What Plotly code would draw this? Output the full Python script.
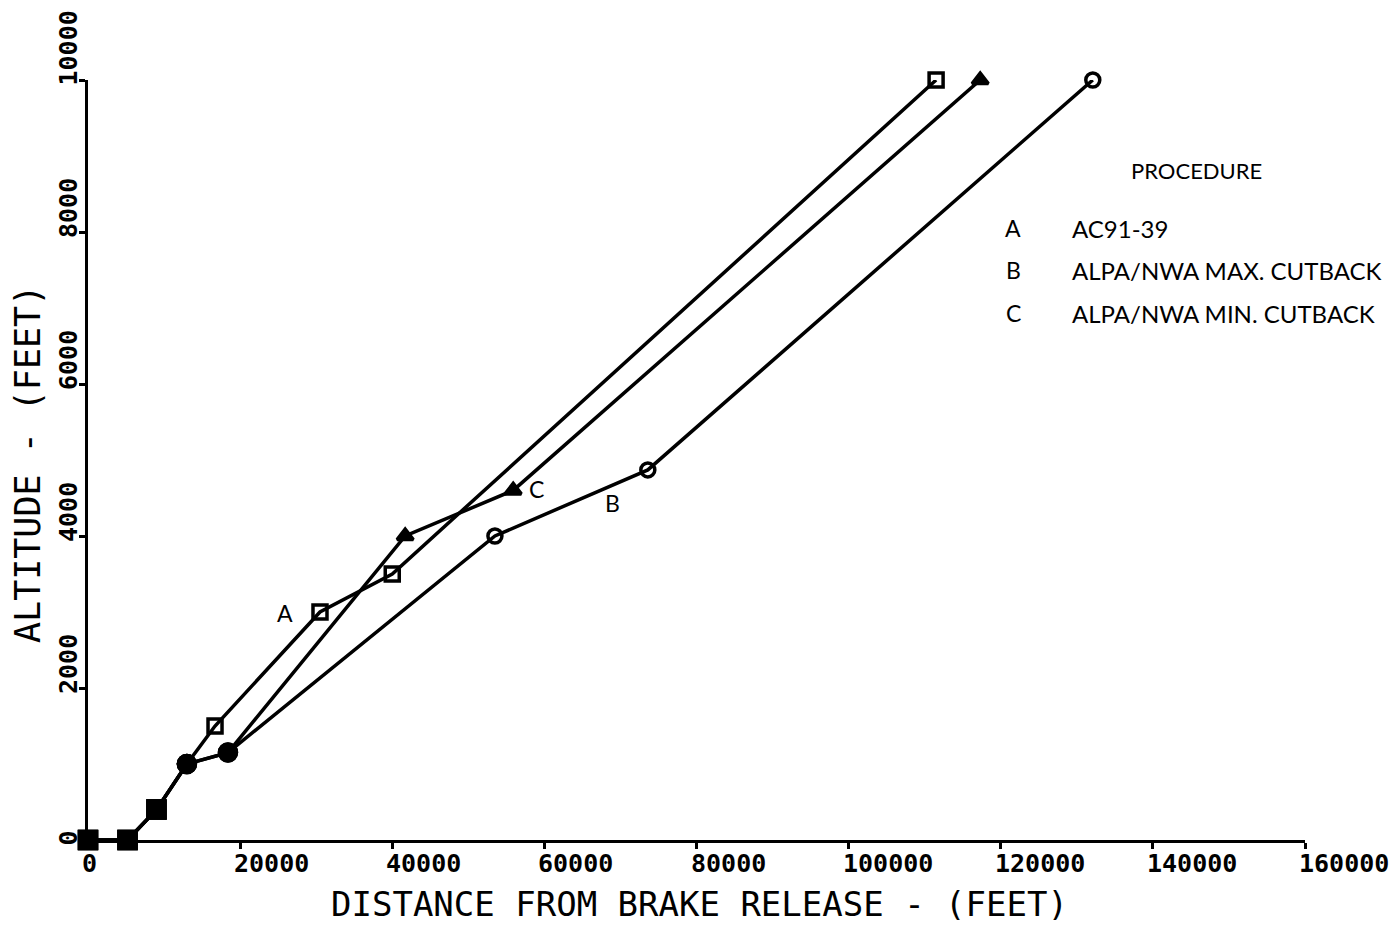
import plotly.graph_objects as go

# ---------------- data ----------------
proc_a_dist = [0, 5200, 9000, 13000, 16700, 30500, 40000, 111500]
proc_a_alt = [0, 0, 400, 1000, 1500, 3000, 3500, 10000]

proc_b_dist = [0, 5200, 9000, 13000, 18400, 53500, 73600, 132100]
proc_b_alt = [0, 0, 400, 1000, 1150, 4000, 4870, 10000]

proc_c_dist = [0, 5200, 9000, 13000, 18400, 41700, 55900, 117300]
proc_c_alt = [0, 0, 400, 1000, 1150, 4000, 4600, 10000]

x_ticks = [0, 20000, 40000, 60000, 80000, 100000, 120000, 140000, 160000]
x_tick_labels = ["0", "20000", "40000", "60000", "80000", "100000", "120000", "140000", "160000"]
y_ticks = [0, 2000, 4000, 6000, 8000, 10000]
y_tick_labels = ["0", "2000", "4000", "6000", "8000", "10000"]

legend_keys = ["A", "B", "C"]
legend_names = ["AC91-39", "ALPA/NWA MAX. CUTBACK", "ALPA/NWA MIN. CUTBACK"]
curve_labels = [("A", 25900, 2990), ("B", 69000, 4430), ("C", 59000, 4620)]

# ---------------- layout geometry ----------------
W, H = 1395, 925
L, R, T, B = 88, 90, 80, 85
PW, PH = W - L - R, H - T - B


def px(xp):
    return (xp - L) / PW


def py(yp):
    return (H - B - yp) / PH


MONO = "DejaVu Sans Mono"
SANS = "Lato"

fig = go.Figure()

shared_syms = ["square", "square", "square", "circle", "circle"]

series = [
    (proc_a_dist, proc_a_alt, 4, "square-open", 14),
    (proc_b_dist, proc_b_alt, 5, "circle-open", 14),
    (proc_c_dist, proc_c_alt, 5, "triangle-up", 14),
]

for xs, ys, n_shared, own_sym, own_size in series:
    n = len(xs)
    syms = shared_syms[:n_shared] + [own_sym] * (n - n_shared)
    sizes = [17] * n_shared + [own_size] * (n - n_shared)
    fig.add_trace(go.Scatter(
        x=xs, y=ys, mode="lines+markers",
        line=dict(color="black", width=3.5),
        marker=dict(symbol=syms, size=sizes, color="black", opacity=1,
                    line=dict(color="black", width=3.5)),
        cliponaxis=False, showlegend=False, hoverinfo="skip",
    ))

ann = []
for v, t in zip(x_ticks, x_tick_labels):
    ann.append(dict(x=v, xref="x", y=0, yref="paper", text="<b>%s</b>" % t, showarrow=False,
                    xanchor="left", xshift=-8, yanchor="middle", yshift=-23,
                    font=dict(family=MONO, size=25, color="black")))
for v, t in zip(y_ticks, y_tick_labels):
    ann.append(dict(y=v, yref="y", x=0, xref="paper", text="<b>%s</b>" % t, showarrow=False,
                    textangle=-90, xanchor="center", xshift=-20,
                    yanchor="bottom", yshift=-8,
                    font=dict(family=MONO, size=25, color="black")))

ann.append(dict(x=px(699), y=0, xref="paper", yref="paper", yshift=-64,
                text="DISTANCE FROM BRAKE RELEASE - (FEET)", showarrow=False,
                xanchor="center", yanchor="middle",
                font=dict(family=MONO, size=34, color="black")))
ann.append(dict(x=0, y=py(464), xref="paper", yref="paper", xshift=-60,
                text="ALTITUDE - (FEET)", showarrow=False, textangle=-90,
                xanchor="center", yanchor="middle",
                font=dict(family=MONO, size=35, color="black")))

ann.append(dict(x=px(1196), y=py(170), xref="paper", yref="paper",
                text="PROCEDURE", showarrow=False, xanchor="center", yanchor="middle",
                font=dict(family=SANS, size=22, color="black")))
row_y = [228, 270, 313]
for k, nm, yy in zip(legend_keys, legend_names, row_y):
    ann.append(dict(x=px(1013), y=py(yy), xref="paper", yref="paper", text=k,
                    showarrow=False, xanchor="center", yanchor="middle",
                    font=dict(family=SANS, size=23, color="black")))
    ann.append(dict(x=px(1070), y=py(yy), xref="paper", yref="paper", text=nm,
                    showarrow=False, xanchor="left", yanchor="middle",
                    font=dict(family=SANS, size=24, color="black")))

for t, xv, yv in curve_labels:
    ann.append(dict(x=xv, y=yv, xref="x", yref="y", text=t, showarrow=False,
                    xanchor="center", yanchor="middle",
                    font=dict(family=SANS, size=23, color="black")))

axis_common = dict(showgrid=False, zeroline=False, showline=True, linecolor="black",
                   linewidth=3, ticks="outside", ticklen=6, tickwidth=2.5,
                   tickcolor="black", showticklabels=False)

fig.update_layout(
    width=W, height=H,
    margin=dict(l=L, r=R, t=T, b=B),
    paper_bgcolor="white", plot_bgcolor="white",
    xaxis=dict(range=[0, 160000], tickvals=x_ticks, **axis_common),
    yaxis=dict(range=[0, 10000], tickvals=y_ticks, **axis_common),
    annotations=ann,
)

fig.write_html("out.html")
